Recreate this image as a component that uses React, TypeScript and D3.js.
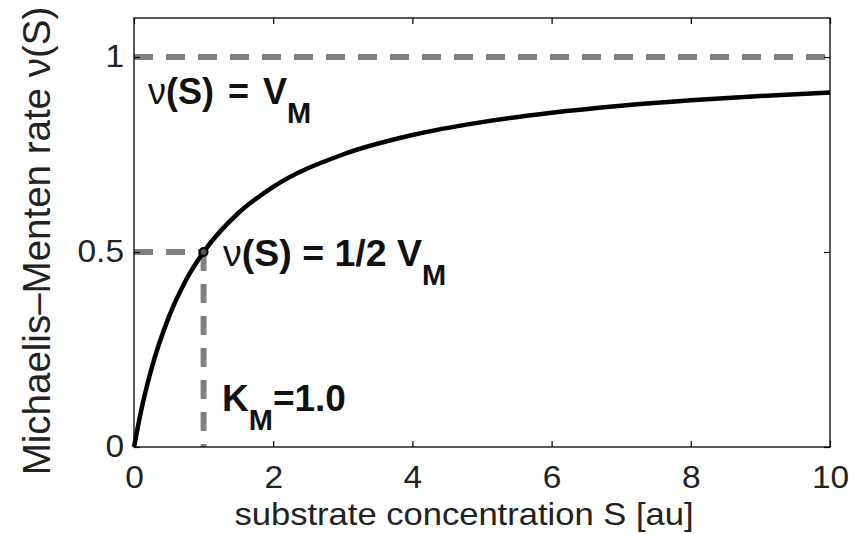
import React, { useEffect, useRef } from "react";
import * as d3 from "d3";

// values (S, v)
const substrate = [0, 0.1, 0.25, 0.5, 0.75, 1, 1.5, 2, 3, 4, 5, 6, 7, 8, 9, 10];
const rate = [0, 0.091, 0.2, 0.333, 0.429, 0.5, 0.6, 0.667, 0.75, 0.8, 0.833, 0.857, 0.875, 0.889, 0.9, 0.909];
const xTicks = [0, 2, 4, 6, 8, 10];
const yTicks = [0, 0.5, 1];
const yTickLabels = ["0", "0.5", "1"];
const vMax = 1;
const kM = 1.0;

const W = 859;
const H = 534;
const FONT = "'Liberation Sans', Arial, sans-serif";
const STRETCH = 1.08; // the reference is slightly wider than tall

export default function App() {
  const ref = useRef<SVGSVGElement>(null);

  useEffect(() => {
    const svg = d3.select(ref.current);
    svg.selectAll("*").remove();

    const x = d3.scaleLinear().domain([0, 10]).range([134, 830]);
    const y = d3.scaleLinear().domain([0, 1.1]).range([447, 18]);

    const g = svg.append("g");

    // dashed guides
    const grey = "#808080";
    const dash = "19,13";
    const guide = (x1: number, y1: number, x2: number, y2: number) =>
      g.append("line")
        .attr("x1", x(x1)).attr("y1", y(y1))
        .attr("x2", x(x2)).attr("y2", y(y2))
        .attr("stroke", grey).attr("stroke-width", 6).attr("stroke-dasharray", dash);
    guide(0, vMax, 10, vMax);
    guide(0, vMax / 2, kM, vMax / 2);
    guide(kM, vMax / 2, kM, 0);

    // axes box with inward ticks
    const axisStyle = (sel: any) => {
      sel.select(".domain").remove();
      sel.selectAll(".tick line").attr("stroke", "#000").attr("stroke-width", 1.2);
      sel.selectAll("text")
        .attr("font-family", FONT)
        .attr("font-size", 31)
        .attr("fill", "#222");
    };

    g.append("g")
      .attr("transform", `translate(0,${y(0)})`)
      .call(d3.axisBottom(x).tickValues(xTicks).tickSizeInner(-6).tickPadding(19).tickFormat(d3.format("d")))
      .call(axisStyle)
      .selectAll("text")
      .attr("transform", `scale(${STRETCH},1)`);
    const left = g.append("g")
      .attr("transform", `translate(${x(0)},0)`)
      .call(
        d3.axisLeft(y).tickValues(yTicks).tickSizeInner(-6).tickPadding(10)
          .tickFormat((d, i) => yTickLabels[i])
      )
      .call(axisStyle);
    left.selectAll("text")
      .attr("x", -10 / STRETCH)
      .attr("transform", `scale(${STRETCH},1)`);
    g.append("g")
      .attr("transform", `translate(0,${y(1.1)})`)
      .call(d3.axisTop(x).tickValues(xTicks).tickSizeInner(-6).tickFormat(() => ""))
      .call(axisStyle);
    g.append("g")
      .attr("transform", `translate(${x(10)},0)`)
      .call(d3.axisRight(y).tickValues(yTicks).tickSizeInner(-6).tickFormat(() => ""))
      .call(axisStyle);

    g.append("rect")
      .attr("x", x(0)).attr("y", y(1.1))
      .attr("width", x(10) - x(0)).attr("height", y(0) - y(1.1))
      .attr("fill", "none").attr("stroke", "#000").attr("stroke-width", 1.3);

    // curve
    const line = d3.line<number>()
      .x((d, i) => x(substrate[i]))
      .y((d) => y(d))
      .curve(d3.curveMonotoneX);
    g.append("path")
      .attr("d", line(rate))
      .attr("fill", "none")
      .attr("stroke", "#000")
      .attr("stroke-width", 4.5);

    // half-max marker
    g.append("circle")
      .attr("cx", x(kM)).attr("cy", y(vMax / 2)).attr("r", 4)
      .attr("fill", "#555").attr("stroke", "#000").attr("stroke-width", 2);

    // annotations
    const label = (px: number, py: number, parts: [string, boolean, number?][], size = 36) => {
      const t = g.append("text")
        .attr("x", px).attr("y", py)
        .attr("font-family", FONT)
        .attr("font-size", size)
        .attr("fill", "#111");
      parts.forEach(([s, sub, dx]) => {
        const sp = t.append("tspan").attr("font-weight", s === "ν" ? "normal" : "bold").text(s);
        if (sub) sp.attr("font-size", 29).attr("dy", 19);
        if (dx) sp.attr("dx", dx);
      });
      return t;
    };
    label(148, 104, [["ν", false], ["(S)", false], ["=", false, 14], ["V", false, 14], ["M", true]]);
    label(223, 266, [["ν", false], ["(S) = 1/2 V", false], ["M", true]], 37.5);
    const km = label(222, 411, [["K", false], ["M", true]], 37);
    km.append("tspan").attr("font-weight", "bold").attr("dy", -19).text("=1.0");

    // axis titles
    g.append("text")
      .attr("transform", `translate(464,525) scale(${STRETCH},1)`)
      .attr("text-anchor", "middle")
      .attr("font-family", FONT).attr("font-size", 32).attr("fill", "#222")
      .text("substrate concentration S [au]");
    g.append("text")
      .attr("transform", `translate(50,241) rotate(-90)`)
      .attr("text-anchor", "middle")
      .attr("font-family", FONT).attr("font-size", 38.5).attr("fill", "#222")
      .text("Michaelis–Menten rate ν(S)");
  }, []);

  return (
    <svg
      ref={ref}
      width={W}
      height={H}
      style={{ position: "absolute", left: 0, top: 0, display: "block", background: "#fff" }}
    />
  );
}
